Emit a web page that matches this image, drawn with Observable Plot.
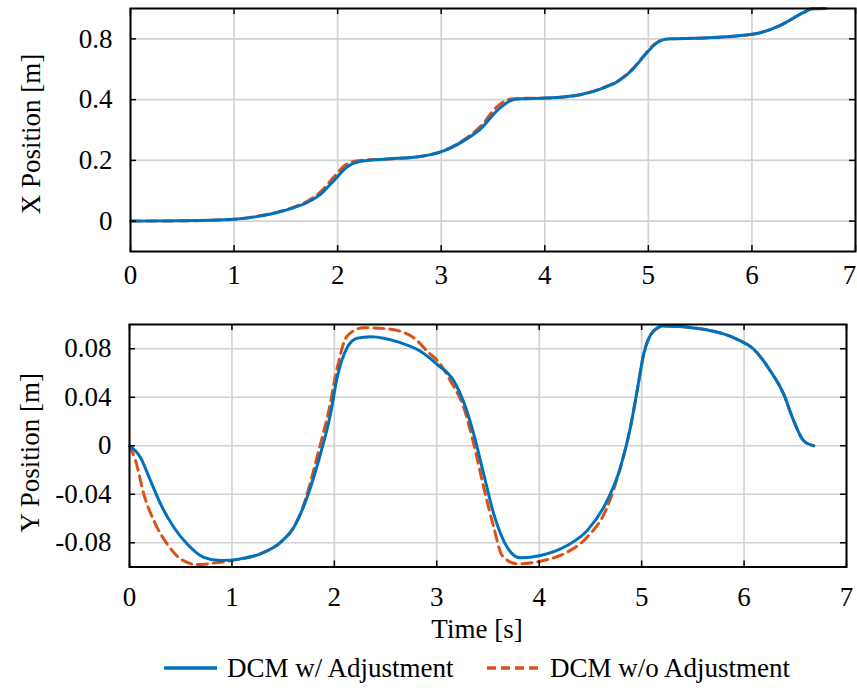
<!DOCTYPE html>
<html>
<head>
<meta charset="utf-8">
<script src="https://cdn.jsdelivr.net/npm/d3@7"></script>
<script src="https://cdn.jsdelivr.net/npm/@observablehq/plot@0.6"></script>
<style>
  html, body { margin: 0; padding: 0; background: white; }
  #wrap { position: relative; width: 857px; height: 696px; background: white; overflow: hidden; }
  #wrap svg { display: block; }
  .legend { position: absolute; top: 640px; left: 0; width: 857px; height: 56px; font-size: 27px; color: black; }
  .item { position: absolute; top: 0; height: 56px; display: flex; align-items: center; white-space: nowrap; }
  .item svg { margin-right: 10px; }
</style>
</head>
<body>
<div id="wrap">
  <div id="top"></div>
  <div id="bottom"></div>
  <div class="legend" id="legend"></div>
</div>
<script>
// ---- Data ----
const seriesNames = ["DCM w/ Adjustment", "DCM w/o Adjustment"];
const xTicks = [0, 1, 2, 3, 4, 5, 6, 7];
const topYTicks = [0, 0.2, 0.4, 0.6];
const topYTickLabels = ["0", "0.2", "0.4", "0.8"];
const botYTicks = [-0.08, -0.04, 0, 0.04, 0.08];
const botYTickLabels = ["-0.08", "-0.04", "0", "0.04", "0.08"];

// X position (top panel), with adjustment
const tTopBlue = [0, 0.5, 1, 1.2, 1.4, 1.55, 1.71, 1.84, 1.965, 2.09, 2.22, 2.45, 2.8, 2.99, 3.22, 3.38, 3.54, 3.67, 3.77, 4.01, 4.34, 4.57, 4.72, 4.85, 4.95, 5.05, 5.12, 5.2, 5.53, 6.02, 6.27, 6.5, 6.58, 6.71];
const xBlue    = [0, 0.001, 0.006, 0.014, 0.027, 0.041, 0.062, 0.09, 0.134, 0.178, 0.197, 0.204, 0.213, 0.227, 0.265, 0.304, 0.364, 0.397, 0.403, 0.405, 0.416, 0.439, 0.463, 0.5, 0.54, 0.578, 0.594, 0.6, 0.603, 0.616, 0.644, 0.687, 0.699, 0.70];
// X position (top panel), without adjustment
const tTopOrange = [0, 0.5, 1, 1.2, 1.4, 1.55, 1.71, 1.84, 1.965, 2.09, 2.22, 2.45, 2.8, 2.99, 3.22, 3.38, 3.54, 3.67, 3.77, 4.01, 4.34, 4.57, 4.72, 4.85, 4.95, 5.05, 5.12, 5.2, 5.53, 6.02, 6.27, 6.5, 6.58, 6.71];
const xOrange    = [0, 0.001, 0.006, 0.015, 0.028, 0.043, 0.066, 0.098, 0.146, 0.188, 0.2, 0.204, 0.213, 0.228, 0.268, 0.312, 0.377, 0.402, 0.404, 0.405, 0.416, 0.44, 0.465, 0.502, 0.542, 0.58, 0.595, 0.6, 0.603, 0.616, 0.644, 0.687, 0.699, 0.70];

// Y position (bottom panel), with adjustment
const tBotBlue = [0, 0.107, 0.205, 0.303, 0.432, 0.563, 0.725, 0.888, 1.083, 1.279, 1.474, 1.604, 1.734, 1.864, 1.962, 2.027, 2.125, 2.222, 2.352, 2.645, 2.84, 3.003, 3.166, 3.263, 3.361, 3.458, 3.556, 3.687, 3.816, 4.012, 4.272, 4.468, 4.663, 4.793, 4.89, 4.956, 5.02, 5.118, 5.215, 5.606, 5.932, 6.094, 6.257, 6.387, 6.484, 6.582, 6.68];
const yBlue    = [0, -0.0096, -0.0288, -0.048, -0.0672, -0.081, -0.092, -0.0947, -0.0933, -0.0891, -0.0796, -0.0672, -0.0425, -0.0068, 0.026, 0.0562, 0.0809, 0.0886, 0.09, 0.085, 0.078, 0.0672, 0.0535, 0.036, 0.0096, -0.0233, -0.0562, -0.0837, -0.0924, -0.0905, -0.0823, -0.07, -0.0453, -0.0178, 0.015, 0.0453, 0.0755, 0.0947, 0.0988, 0.096, 0.0878, 0.0796, 0.0617, 0.0425, 0.0206, 0.0041, 0];
// Y position (bottom panel), without adjustment
const tBotOrange = [0, 0.059, 0.14, 0.237, 0.368, 0.498, 0.661, 0.888, 1.083, 1.279, 1.474, 1.604, 1.669, 1.864, 1.946, 2.027, 2.125, 2.287, 2.548, 2.775, 2.906, 3.036, 3.133, 3.263, 3.361, 3.458, 3.556, 3.638, 3.784, 4.012, 4.272, 4.468, 4.663, 4.793, 4.89, 4.956, 5.02, 5.118, 5.215, 5.606, 5.932, 6.094, 6.257, 6.387, 6.484, 6.582, 6.68];
const yOrange    = [0, -0.0123, -0.04, -0.0617, -0.081, -0.0933, -0.098, -0.096, -0.0935, -0.0891, -0.0796, -0.0672, -0.056, 0.0014, 0.029, 0.064, 0.0905, 0.0974, 0.096, 0.0891, 0.078, 0.0672, 0.0535, 0.0315, 0.0014, -0.0343, -0.0672, -0.0905, -0.0974, -0.0952, -0.0878, -0.0755, -0.0508, -0.0178, 0.015, 0.0453, 0.0755, 0.0947, 0.0988, 0.096, 0.0878, 0.0796, 0.0617, 0.0425, 0.0206, 0.0041, 0];

const toRows = (ts, vs) => ts.map((t, i) => ({t, v: vs[i]}));
const topBlue = toRows(tTopBlue, xBlue), topOrange = toRows(tTopOrange, xOrange);
const botBlue = toRows(tBotBlue, yBlue), botOrange = toRows(tBotOrange, yOrange);

const BLUE = "#0072BD", ORANGE = "#D95319", GRID = "#d2d2d2";
const SERIF = '"Liberation Serif", serif';

function panel({width, height, mt, mr, mb, ml, ydomain, yticks, ylabels, padX, blue, orange, ylabel, ylabelDy, pullLastX, extra}) {
  const innerW = width - ml - mr, innerH = height - mt - mb;
  const axisXTicks = pullLastX ? xTicks.slice(0, -1) : xTicks;
  const lastX = pullLastX ? [Plot.text(xTicks.slice(-1), {x: d => d, text: d => String(d), frameAnchor: "bottom", lineAnchor: "top", textAnchor: "middle", dy: padX, dx: -6, fill: "black"})] : [];
  return Plot.plot({
    width, height, marginTop: mt, marginRight: mr, marginBottom: mb, marginLeft: ml,
    style: {fontSize: "27px", background: "white", color: "black", overflow: "visible"},
    x: {domain: [0, 7], ticks: axisXTicks, tickSize: 0, tickPadding: padX, label: null, tickFormat: d => String(d)},
    y: {domain: ydomain, ticks: yticks, tickSize: 0, tickPadding: 18, label: null,
        tickFormat: d => ylabels[yticks.indexOf(d)]},
    marks: [
      Plot.ruleX(xTicks, {x: d => d, stroke: GRID, strokeWidth: 1.7}),
      Plot.ruleY(yticks, {y: d => d, stroke: GRID, strokeWidth: 1.7}),
      Plot.line(orange, {x: "t", y: "v", stroke: ORANGE, strokeWidth: 3, strokeDasharray: "10,6", curve: "monotone-x"}),
      Plot.line(blue, {x: "t", y: "v", stroke: BLUE, strokeWidth: 3, curve: "monotone-x"}),
      Plot.tickX(xTicks, {x: d => d, stroke: "black", strokeWidth: 1.5, insetTop: innerH - 6}),
      Plot.tickX(xTicks, {x: d => d, stroke: "black", strokeWidth: 1.5, insetBottom: innerH - 6}),
      Plot.tickY(yticks, {y: d => d, stroke: "black", strokeWidth: 1.5, insetRight: innerW - 6}),
      Plot.tickY(yticks, {y: d => d, stroke: "black", strokeWidth: 1.5, insetLeft: innerW - 6}),
      Plot.frame({stroke: "black", strokeWidth: 2}),
      Plot.text([ylabel], {text: d => d, frameAnchor: "left", textAnchor: "middle", lineAnchor: "middle", dx: -99, dy: ylabelDy, rotate: -90, fill: "black"}),
      ...lastX,
      ...(extra || [])
    ]
  });
}

const topSvg = panel({
  width: 857, height: 300, mt: 8, mr: 2, mb: 49, ml: 130,
  ydomain: [-0.1, 0.7], yticks: topYTicks, ylabels: topYTickLabels, padX: 13,
  blue: topBlue, orange: topOrange, ylabel: "X Position [m]", ylabelDy: 4, pullLastX: true
});
const botSvg = panel({
  width: 857, height: 340, mt: 24, mr: 11, mb: 73.5, ml: 129,
  ydomain: [-0.1, 0.1], yticks: botYTicks, ylabels: botYTickLabels, padX: 20,
  blue: botBlue, orange: botOrange, ylabel: "Y Position [m]", ylabelDy: 7, pullLastX: false,
  extra: [Plot.text(["Time [s]"], {text: d => d, frameAnchor: "bottom", textAnchor: "middle", lineAnchor: "middle", dy: 62, dx: -11, fill: "black"})]
});
document.getElementById("top").appendChild(topSvg);
document.getElementById("bottom").appendChild(botSvg);

// Legend (HTML, below the plots)
const legend = document.getElementById("legend");
const legendItems = [
  {name: seriesNames[0], color: BLUE, dash: null, left: 164},
  {name: seriesNames[1], color: ORANGE, dash: "9,5", left: 487}
];
for (const it of legendItems) {
  const div = document.createElement("div");
  div.className = "item";
  div.style.left = it.left + "px";
  const ns = "http://www.w3.org/2000/svg";
  const sw = document.createElementNS(ns, "svg");
  sw.setAttribute("width", 53); sw.setAttribute("height", 12);
  const ln = document.createElementNS(ns, "line");
  ln.setAttribute("x1", 0); ln.setAttribute("x2", 53); ln.setAttribute("y1", 6); ln.setAttribute("y2", 6);
  ln.setAttribute("stroke", it.color); ln.setAttribute("stroke-width", 3.5);
  if (it.dash) ln.setAttribute("stroke-dasharray", it.dash);
  sw.appendChild(ln);
  div.appendChild(sw);
  const span = document.createElement("span");
  span.textContent = it.name;
  div.appendChild(span);
  legend.appendChild(div);
}

// Apply serif font inline everywhere
for (const svg of [topSvg, botSvg]) {
  svg.style.fontFamily = SERIF;
  svg.querySelectorAll("g, text").forEach(el => { el.removeAttribute("font-family"); });
  svg.querySelectorAll("text").forEach(el => { el.style.fontFamily = SERIF; el.style.fontSize = "27px"; });
}
legend.style.fontFamily = SERIF;
legend.querySelectorAll("span").forEach(el => { el.style.fontFamily = SERIF; });
</script>
</body>
</html>
